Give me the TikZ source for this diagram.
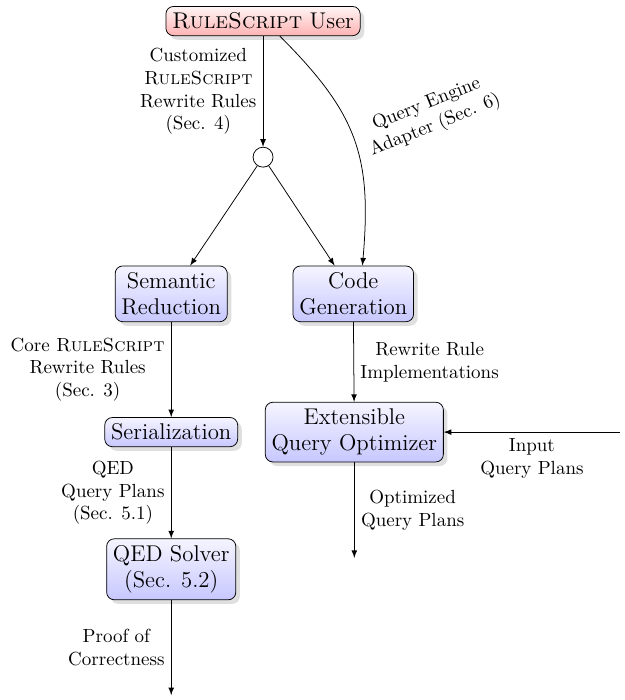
\documentclass[tikz,border=0pt]{standalone}
\usetikzlibrary{shadows,arrows}

\begin{document}
\begin{tikzpicture}[>=latex]
        \tikzstyle{block}=[draw, rounded corners=4pt, align=center, font=\large, top color=blue!4, bottom color=blue!22, drop shadow={opacity=0.25}]
        \tikzstyle{userblock}=[block, top color=red!4, bottom color=red!30]
        \tikzstyle{junction}=[draw, circle, minimum size=3.7mm, inner sep=0pt]
        \tikzstyle{lbl}=[align=center]
        \useasboundingbox (0,0) rectangle (11.56,-12.96);
        \node [userblock] (user) at (4.87,-0.39) {\textsc{RuleScript} User};
        \node [junction] (join) at (4.87,-2.91) {};
        \node [block] (semred) at (3.17,-5.44) {Semantic\\Reduction};
        \node [block] (codegen) at (6.54,-5.44) {Code\\Generation};
        \node [block] (serial) at (3.17,-8.0) {Serialization};
        \node [block] (optim) at (6.56,-8.0) {Extensible\\Query Optimizer};
        \node [block] (qed) at (3.17,-10.54) {QED Solver\\(Sec. 5.2)};
        \node [lbl, rotate=22] (adapter) at (7.98,-2.13) {Query Engine\\Adapter (Sec. 6)};
        \coordinate (input) at (11.48,-8.0);
        \coordinate (optout) at (6.56,-10.33);
        \coordinate (proof) at (3.17,-12.87);
        \draw [->] (user) -- node [lbl, left] {Customized\\\textsc{RuleScript}\\Rewrite Rules\\(Sec. 4)} (join);
        \draw [->] (join) -- (semred);
        \draw [->] (join) -- (codegen);
        \draw [->] ([xshift=0.31cm]user.south) to [out=-45, in=85, looseness=1.15] ([xshift=0.17cm]codegen.north);
        \draw [->] (semred) -- node [lbl, left] {Core \textsc{RuleScript}\\Rewrite Rules\\(Sec. 3)} (serial);
        \draw [->] (serial) -- node [lbl, left] {QED\\Query Plans\\(Sec. 5.1)} (qed);
        \draw [->] (qed) -- node [lbl, left] {Proof of\\Correctness} (proof);
        \draw [->] (codegen) -- node [lbl, right] {Rewrite Rule\\Implementations} (optim);
        \draw [->] (input) -- node [lbl, below] {Input\\Query Plans} (optim);
        \draw [->] (optim) -- node [lbl, right] {Optimized\\Query Plans} (optout);
    \end{tikzpicture}
\end{document}
